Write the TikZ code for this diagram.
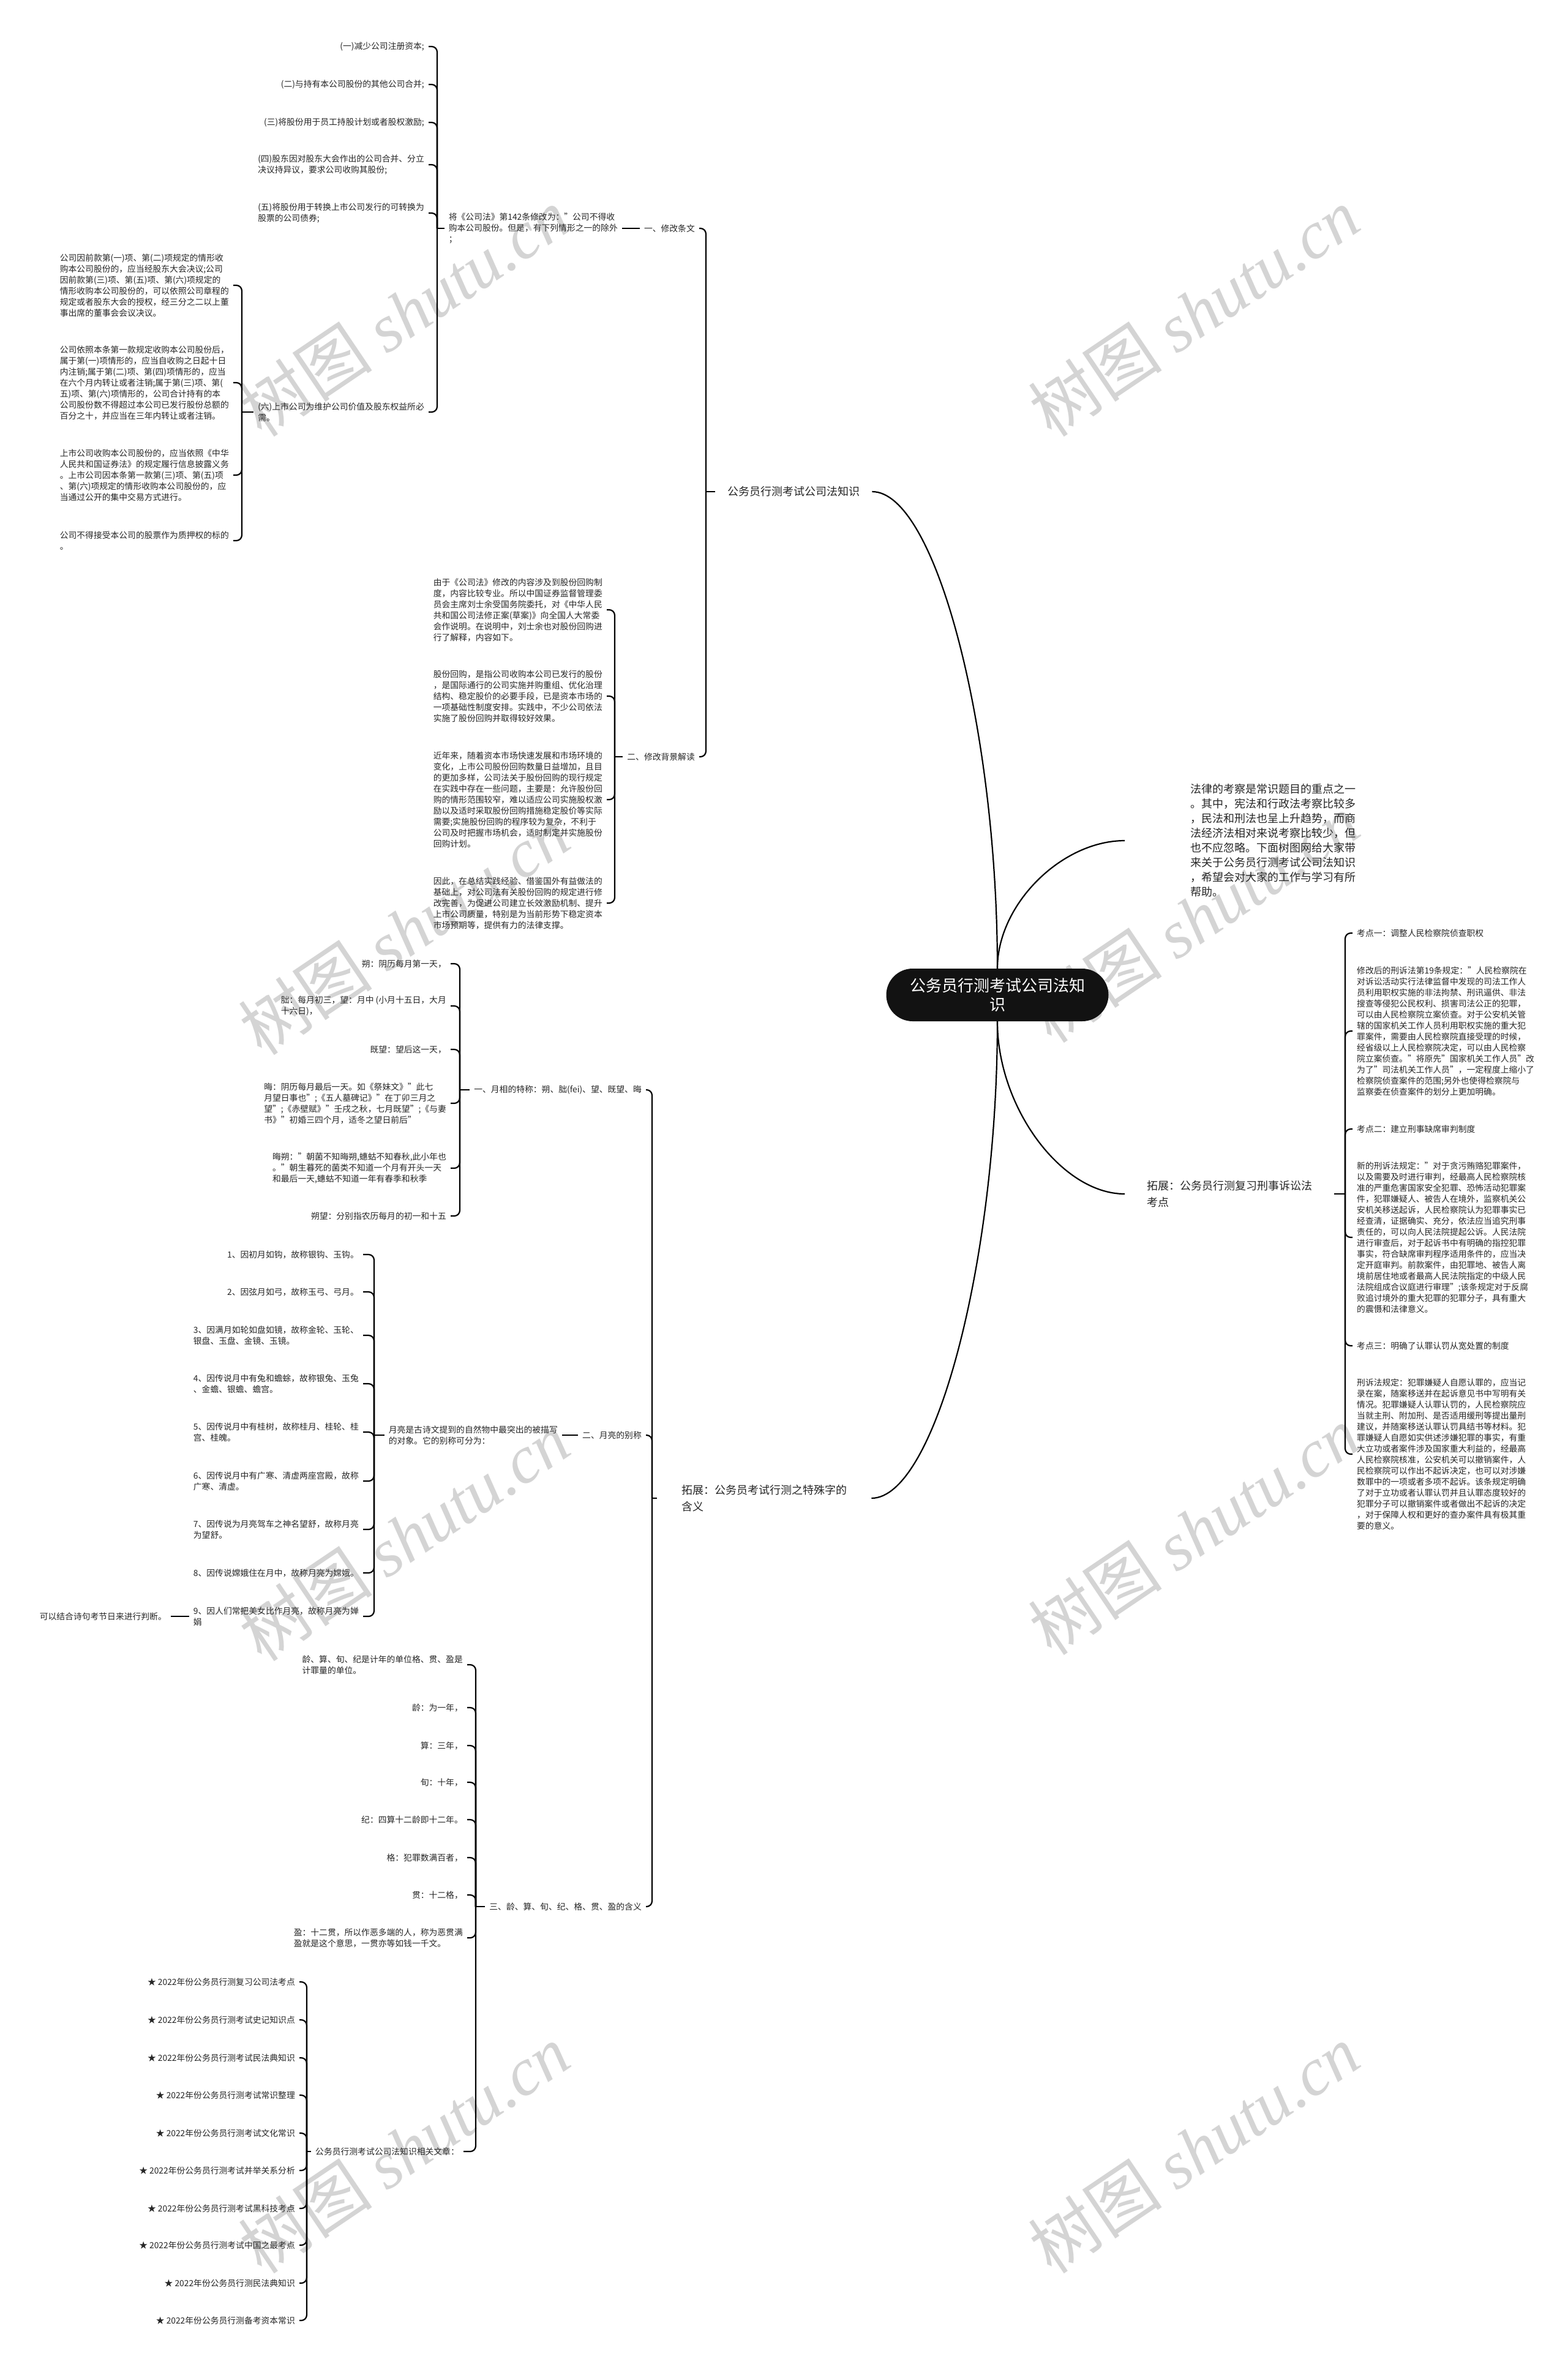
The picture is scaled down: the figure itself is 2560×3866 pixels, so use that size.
\documentclass[tikz,border=0pt]{standalone}
\usepackage{fontspec}
\setmainfont{Noto Sans CJK SC}
\newfontfamily\wmserif{Liberation Serif}
\usetikzlibrary{calc}
\tikzset{
 txt/.style={font=\fontsize{13.8}{18}\selectfont, text=black!85, align=left, inner xsep=7pt, inner ysep=2pt},
 lt/.style={txt, anchor=east},
 rt/.style={txt, anchor=west},
 bigtxt/.style={font=\fontsize{18}{27}\selectfont, text=black!85, align=left, inner ysep=2pt},
 link/.style={draw=black, line width=2.2pt},
 brace/.style={link, rounded corners=9pt},
 rootbox/.style={fill=black!93, text=white, rounded corners=43pt, minimum width=363pt, minimum height=86pt, align=center, font=\fontsize{26}{31}\selectfont},
 wm/.style={text=black!17, rotate=34, font=\fontsize{110}{110}\selectfont, inner sep=0pt}
}
\begin{document}
\begin{tikzpicture}[x=1pt,y=-1pt]
\fill[white] (0,0) rectangle (2560,3866);
\useasboundingbox (0,0) rectangle (2560,3866);
% watermarks
\foreach \wx/\wy in {660/510,1950/510,660/1520,1950/1500,660/2510,1950/2500,660/3510,1950/3510}
  \node[wm] at (\wx,\wy) {树图 {\wmserif\itshape shutu.cn}};
% root and level 1
\node[rootbox] (root) at (1629,1625) {公务员行测考试公司法知\\识};
\node[bigtxt, inner xsep=20pt, anchor=west] (n1) at (1168,803) {公务员行测考试公司法知识};
\node[bigtxt, font=\fontsize{18}{24}\selectfont, inner xsep=0pt, anchor=west] (intro) at (1944,1373) {法律的考察是常识题目的重点之一\\。其中，宪法和行政法考察比较多\\，民法和刑法也呈上升趋势，而商\\法经济法相对来说考察比较少，但\\也不应忽略。下面树图网给大家带\\来关于公务员行测考试公司法知识\\，希望会对大家的工作与学习有所\\帮助。};
\node[bigtxt, inner xsep=36pt, anchor=west] (tz1) at (1837,1950) {拓展：公务员行测复习刑事诉讼法\\考点};
\node[bigtxt, inner xsep=40pt, anchor=west] (tz2) at (1073,2447) {拓展：公务员考试行测之特殊字的\\含义};
% branch 1
\node[lt] (a1) at (1142,373) {一、修改条文};
\node[lt] (a2) at (1142,1236) {二、修改背景解读};
\node[lt] (b0) at (1016,373) {将《公司法》第142条修改为："公司不得收\\购本公司股份。但是，有下列情形之一的除外\\；};
\node[lt] (c1) at (700,76) {(一)减少公司注册资本;};
\node[lt] (c2) at (700,138) {(二)与持有本公司股份的其他公司合并;};
\node[lt] (c3) at (700,200) {(三)将股份用于员工持股计划或者股权激励;};
\node[lt] (c4) at (700,269) {(四)股东因对股东大会作出的公司合并、分立\\决议持异议，要求公司收购其股份;};
\node[lt] (c5) at (700,348) {(五)将股份用于转换上市公司发行的可转换为\\股票的公司债券;};
\node[lt] (c6) at (700,673) {(六)上市公司为维护公司价值及股东权益所必\\需。};
\node[lt] (d1) at (381,466) {公司因前款第(一)项、第(二)项规定的情形收\\购本公司股份的，应当经股东大会决议;公司\\因前款第(三)项、第(五)项、第(六)项规定的\\情形收购本公司股份的，可以依照公司章程的\\规定或者股东大会的授权，经三分之二以上董\\事出席的董事会会议决议。};
\node[lt] (d2) at (381,625) {公司依照本条第一款规定收购本公司股份后，\\属于第(一)项情形的，应当自收购之日起十日\\内注销;属于第(二)项、第(四)项情形的，应当\\在六个月内转让或者注销;属于第(三)项、第(\\五)项、第(六)项情形的，公司合计持有的本\\公司股份数不得超过本公司已发行股份总额的\\百分之十，并应当在三年内转让或者注销。};
\node[lt] (d3) at (381,776) {上市公司收购本公司股份的，应当依照《中华\\人民共和国证券法》的规定履行信息披露义务\\。上市公司因本条第一款第(三)项、第(五)项\\、第(六)项规定的情形收购本公司股份的，应\\当通过公开的集中交易方式进行。};
\node[lt] (d4) at (381,883) {公司不得接受本公司的股票作为质押权的标的\\。};
\node[lt] (e1) at (991,996) {由于《公司法》修改的内容涉及到股份回购制\\度，内容比较专业。所以中国证券监督管理委\\员会主席刘士余受国务院委托，对《中华人民\\共和国公司法修正案(草案)》向全国人大常委\\会作说明。在说明中，刘士余也对股份回购进\\行了解释，内容如下。};
\node[lt] (e2) at (991,1137) {股份回购，是指公司收购本公司已发行的股份\\，是国际通行的公司实施并购重组、优化治理\\结构、稳定股价的必要手段，已是资本市场的\\一项基础性制度安排。实践中，不少公司依法\\实施了股份回购并取得较好效果。};
\node[lt] (e3) at (991,1306) {近年来，随着资本市场快速发展和市场环境的\\变化，上市公司股份回购数量日益增加，且目\\的更加多样，公司法关于股份回购的现行规定\\在实践中存在一些问题，主要是：允许股份回\\购的情形范围较窄，难以适应公司实施股权激\\励以及适时采取股份回购措施稳定股价等实际\\需要;实施股份回购的程序较为复杂，不利于\\公司及时把握市场机会，适时制定并实施股份\\回购计划。};
\node[lt] (e4) at (991,1475) {因此，在总结实践经验、借鉴国外有益做法的\\基础上，对公司法有关股份回购的规定进行修\\改完善，为促进公司建立长效激励机制、提升\\上市公司质量，特别是为当前形势下稳定资本\\市场预期等，提供有力的法律支撑。};
% right branch
\node[rt] (f1) at (2209,1524) {考点一：调整人民检察院侦查职权};
\node[rt] (f2) at (2209,1684) {修改后的刑诉法第19条规定："人民检察院在\\对诉讼活动实行法律监督中发现的司法工作人\\员利用职权实施的非法拘禁、刑讯逼供、非法\\搜查等侵犯公民权利、损害司法公正的犯罪，\\可以由人民检察院立案侦查。对于公安机关管\\辖的国家机关工作人员利用职权实施的重大犯\\罪案件，需要由人民检察院直接受理的时候，\\经省级以上人民检察院决定，可以由人民检察\\院立案侦查。"将原先"国家机关工作人员"改\\为了"司法机关工作人员"，一定程度上缩小了\\检察院侦查案件的范围;另外也使得检察院与\\监察委在侦查案件的划分上更加明确。};
\node[rt] (f3) at (2209,1844) {考点二：建立刑事缺席审判制度};
\node[rt] (f4) at (2209,2021) {新的刑诉法规定："对于贪污贿赂犯罪案件，\\以及需要及时进行审判，经最高人民检察院核\\准的严重危害国家安全犯罪、恐怖活动犯罪案\\件，犯罪嫌疑人、被告人在境外，监察机关公\\安机关移送起诉，人民检察院认为犯罪事实已\\经查清，证据确实、充分，依法应当追究刑事\\责任的，可以向人民法院提起公诉。人民法院\\进行审查后，对于起诉书中有明确的指控犯罪\\事实，符合缺席审判程序适用条件的，应当决\\定开庭审判。前款案件，由犯罪地、被告人离\\境前居住地或者最高人民法院指定的中级人民\\法院组成合议庭进行审理";该条规定对于反腐\\败追讨境外的重大犯罪的犯罪分子，具有重大\\的震慑和法律意义。};
\node[rt] (f5) at (2209,2198) {考点三：明确了认罪认罚从宽处置的制度};
\node[rt] (f6) at (2209,2375) {刑诉法规定：犯罪嫌疑人自愿认罪的，应当记\\录在案，随案移送并在起诉意见书中写明有关\\情况。犯罪嫌疑人认罪认罚的，人民检察院应\\当就主刑、附加刑、是否适用缓刑等提出量刑\\建议，并随案移送认罪认罚具结书等材料。犯\\罪嫌疑人自愿如实供述涉嫌犯罪的事实，有重\\大立功或者案件涉及国家重大利益的，经最高\\人民检察院核准，公安机关可以撤销案件，人\\民检察院可以作出不起诉决定，也可以对涉嫌\\数罪中的一项或者多项不起诉。该条规定明确\\了对于立功或者认罪认罚并且认罪态度较好的\\犯罪分子可以撤销案件或者做出不起诉的决定\\，对于保障人权和更好的查办案件具有极其重\\要的意义。};
% bottom-left branch
\node[lt] (g1) at (1055,1780) {一、月相的特称：朔、朏(fei)、望、既望、晦};
\node[lt] (g2) at (1055,2344) {二、月亮的别称};
\node[lt] (g3) at (1055,3114) {三、龄、算、旬、纪、格、贯、盈的含义};
\node[lt] (h1) at (736,1574) {朔：阴历每月第一天，};
\node[lt] (h2) at (736,1643) {朏：每月初三，望：月中 (小月十五日，大月\\十六日)，};
\node[lt] (h3) at (736,1714) {既望：望后这一天，};
\node[lt] (h4) at (736,1802) {晦：阴历每月最后一天。如《祭妹文》"此七\\月望日事也";《五人墓碑记》"在丁卯三月之\\望";《赤壁赋》"壬戌之秋，七月既望";《与妻\\书》"初婚三四个月，适冬之望日前后"};
\node[lt] (h5) at (736,1908) {晦朔："朝菌不知晦朔,蟪蛄不知春秋,此小年也\\。"朝生暮死的菌类不知道一个月有开头一天\\和最后一天,蟪蛄不知道一年有春季和秋季};
\node[lt] (h6) at (736,1986) {朔望：分别指农历每月的初一和十五};
\node[lt] (i0) at (918,2344) {月亮是古诗文提到的自然物中最突出的被描写\\的对象。它的别称可分为：};
\node[lt] (j1) at (593,2049) {1、因初月如钩，故称银钩、玉钩。};
\node[lt] (j2) at (593,2110) {2、因弦月如弓，故称玉弓、弓月。};
\node[lt] (j3) at (593,2181) {3、因满月如轮如盘如镜，故称金轮、玉轮、\\银盘、玉盘、金镜、玉镜。};
\node[lt] (j4) at (593,2260) {4、因传说月中有兔和蟾蜍，故称银兔、玉兔\\、金蟾、银蟾、蟾宫。};
\node[lt] (j5) at (593,2339) {5、因传说月中有桂树，故称桂月、桂轮、桂\\宫、桂魄。};
\node[lt] (j6) at (593,2419) {6、因传说月中有广寒、清虚两座宫殿，故称\\广寒、清虚。};
\node[lt] (j7) at (593,2498) {7、因传说为月亮驾车之神名望舒，故称月亮\\为望舒。};
\node[lt] (j8) at (593,2569) {8、因传说嫦娥住在月中，故称月亮为嫦娥。};
\node[lt] (j9) at (593,2640) {9、因人们常把美女比作月亮，故称月亮为婵\\娟};
\node[lt] (k1) at (279,2640) {可以结合诗句考节日来进行判断。};
\node[lt] (l1) at (763,2719) {龄、算、旬、纪是计年的单位格、贯、盈是\\计罪量的单位。};
\node[lt] (l2) at (763,2789) {龄：为一年，};
\node[lt] (l3) at (763,2851) {算：三年，};
\node[lt] (l4) at (763,2911) {旬：十年，};
\node[lt] (l5) at (763,2972) {纪：四算十二龄即十二年。};
\node[lt] (l6) at (763,3034) {格：犯罪数满百者，};
\node[lt] (l7) at (763,3095) {贯：十二格，};
\node[lt] (l8) at (763,3165) {盈：十二贯，所以作恶多端的人，称为恶贯满\\盈就是这个意思，一贯亦等如钱一千文。};
\node[lt] (l9) at (757,3514) {公务员行测考试公司法知识相关文章：};
\node[lt] (m1) at (489,3237) {★ 2022年份公务员行测复习公司法考点};
\node[lt] (m2) at (489,3299) {★ 2022年份公务员行测考试史记知识点};
\node[lt] (m3) at (489,3361) {★ 2022年份公务员行测考试民法典知识};
\node[lt] (m4) at (489,3422) {★ 2022年份公务员行测考试常识整理};
\node[lt] (m5) at (489,3484) {★ 2022年份公务员行测考试文化常识};
\node[lt] (m6) at (489,3545) {★ 2022年份公务员行测考试并举关系分析};
\node[lt] (m7) at (489,3607) {★ 2022年份公务员行测考试黑科技考点};
\node[lt] (m8) at (489,3667) {★ 2022年份公务员行测考试中国之最考点};
\node[lt] (m9) at (489,3729) {★ 2022年份公务员行测民法典知识};
\node[lt] (m10) at (489,3790) {★ 2022年份公务员行测备考资本常识};
% main curves
\draw[link] (root.north) .. controls +(0,-390) and +(104,0) .. (n1.east);
\draw[link] (root.north) .. controls +(0,-105) and +(-103,0) .. ([xshift=-107pt]intro.west);
\draw[link] (root.south) .. controls +(0,141) and +(-103,0) .. (tz1.west);
\draw[link] (root.south) .. controls +(0,390) and +(104,0) .. (tz2.east);
% spines
\coordinate (sA) at ($(a1.east |- n1.west)+(11,0)$);
\draw[link] (n1.west) -- (sA);
\foreach \n in {a1,a2} \draw[brace] (sA) |- (\n.east);
\draw[link] (a1.west) -- (b0.east);
\coordinate (sC) at ($(c1.east |- b0.west)+(14,0)$);
\draw[link] (b0.west) -- (sC);
\foreach \n in {c1,c2,c3,c4,c5,c6} \draw[brace] (sC) |- (\n.east);
\coordinate (sD) at ($(d1.east |- c6.west)+(14,0)$);
\draw[link] (c6.west) -- (sD);
\foreach \n in {d1,d2,d3,d4} \draw[brace] (sD) |- (\n.east);
\coordinate (sE) at ($(e1.east |- a2.west)+(13,0)$);
\draw[link] (a2.west) -- (sE);
\foreach \n in {e1,e2,e3,e4} \draw[brace] (sE) |- (\n.east);
\coordinate (sF) at ($(f1.west |- tz1.east)+(-12,0)$);
\draw[link] (tz1.east) -- (sF);
\foreach \n in {f1,f2,f3,f4,f5,f6} \draw[brace] (sF) |- (\n.west);
\coordinate (sG) at ($(g1.east |- tz2.west)+(10,0)$);
\draw[link] (tz2.west) -- (sG);
\foreach \n in {g1,g2,g3} \draw[brace] (sG) |- (\n.east);
\coordinate (sH) at ($(h1.east |- g1.west)+(15,0)$);
\draw[link] (g1.west) -- (sH);
\foreach \n in {h1,h2,h3,h4,h5,h6} \draw[brace] (sH) |- (\n.east);
\draw[link] (g2.west) -- (i0.east);
\coordinate (sJ) at ($(j1.east |- i0.west)+(18,0)$);
\draw[link] (i0.west) -- (sJ);
\foreach \n in {j1,j2,j3,j4,j5,j6,j7,j8,j9} \draw[brace] (sJ) |- (\n.east);
\draw[link] (j9.west) -- (k1.east);
\coordinate (sL) at ($(l2.east |- g3.west)+(14,0)$);
\draw[link] (g3.west) -- (sL);
\foreach \n in {l1,l2,l3,l4,l5,l6,l7,l8,l9} \draw[brace] (sL) |- (\n.east);
\coordinate (sM) at ($(m1.east |- l9.west)+(12,0)$);
\draw[link] (l9.west) -- (sM);
\foreach \n in {m1,m2,m3,m4,m5,m6,m7,m8,m9,m10} \draw[brace] (sM) |- (\n.east);
\end{tikzpicture}
\end{document}
